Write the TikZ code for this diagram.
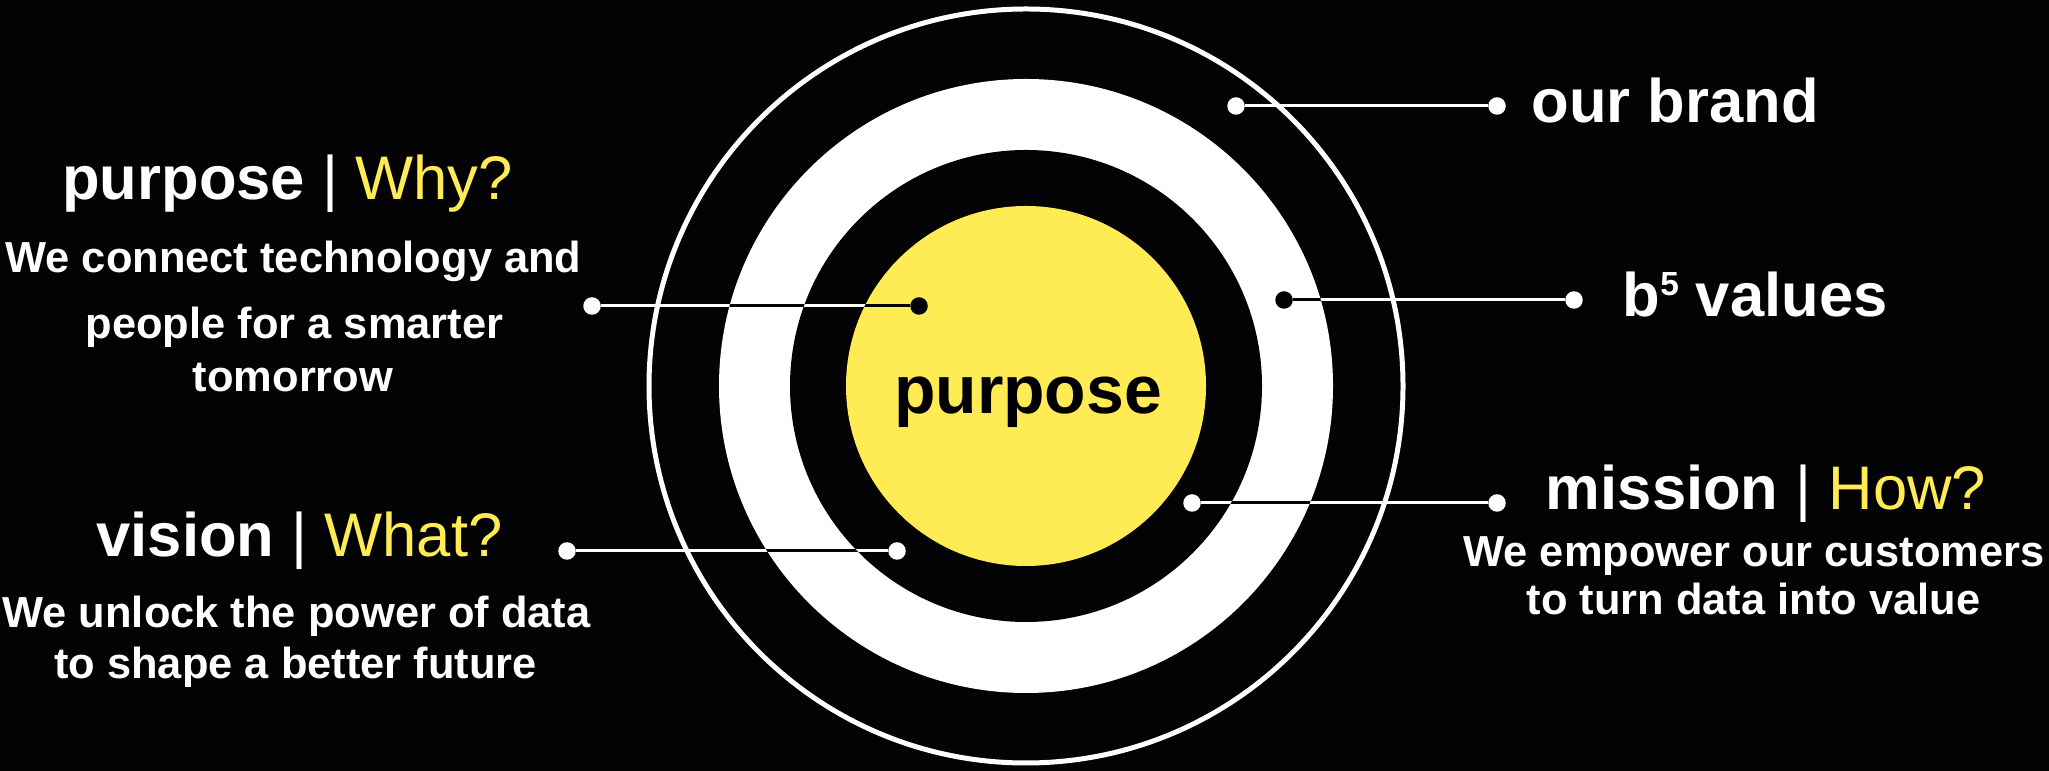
\documentclass[tikz,border=0pt]{standalone}
\usepackage{fontspec}
\setmainfont{Liberation Sans}
\definecolor{bgblack}{RGB}{3,3,6}
\definecolor{ringyellow}{RGB}{255,236,85}
\newcommand{\qhead}[2]{\textbf{#1} | \textcolor{ringyellow}{#2}}

\begin{document}
\begin{tikzpicture}[x=0.01cm, y=-0.01cm,
    dotw/.style={circle, fill=white, inner sep=0pt, minimum size=0.175cm},
    dotb/.style={circle, fill=bgblack, inner sep=0pt, minimum size=0.175cm},
    link/.style={line width=0.85pt},
    head/.style={font=\fontsize{17.5pt}{20pt}\selectfont, text=white,
      anchor=base, inner sep=0pt},
    body/.style={font=\fontsize{12.35pt}{14pt}\selectfont\bfseries, text=white,
      anchor=base, inner sep=0pt},
    tag/.style={font=\fontsize{17.5pt}{20pt}\selectfont\bfseries, text=white,
      anchor=base west, inner sep=0pt}
  ]
    % background
    \useasboundingbox (0,0) rectangle (2049,771);
    \fill[bgblack] (0,0) rectangle (2049,771);

    % target rings
    \coordinate (ctr) at (1026,386);
    \draw[white, line width=1.42pt] (ctr) circle[radius=377];
    \fill[white] (ctr) circle[radius=307];
    \fill[bgblack] (ctr) circle[radius=236];
    \fill[ringyellow] (ctr) circle[radius=180];
    \node[font=\fontsize{19.3pt}{22pt}\selectfont\bfseries, text=black,
      anchor=base, inner sep=0pt] (core) at (1028,414) {purpose};

    % end dots
    \node[dotw] (whyA) at (592,306) {};
    \node[dotb] (whyB) at (919,306) {};
    \node[dotw] (whatA) at (567,551) {};
    \node[dotw] (whatB) at (897,551) {};
    \node[dotw] (brandA) at (1236,106) {};
    \node[dotw] (brandB) at (1497,106) {};
    \node[dotb] (valuesA) at (1284,300) {};
    \node[dotw] (valuesB) at (1574,300) {};
    \node[dotw] (howA) at (1192,503) {};
    \node[dotw] (howB) at (1497,503) {};

    % connectors: white on black, black on the white band and the yellow core
    \draw[link, white] (whyA) -- (whyB);
    \draw[link, white] (whatA) -- (whatB);
    \draw[link, white] (brandA) -- (brandB);
    \draw[link, white] (valuesA) -- (valuesB);
    \draw[link, white] (howA) -- (howB);
    \begin{scope}[even odd rule]
      \clip (ctr) circle[radius=307] (ctr) circle[radius=236]
        (ctr) circle[radius=180];
      \draw[link, bgblack] (whyA) -- (whyB);
      \draw[link, bgblack] (whatA) -- (whatB);
      \draw[link, bgblack] (valuesA) -- (valuesB);
      \draw[link, bgblack] (howA) -- (howB);
    \end{scope}

    % left texts
    \node[head] (whyH) at (287.5,200) {\qhead{purpose}{Why?}};
    \node[body] (whyL1) at (293.5,273) {We connect technology and};
    \node[body] (whyL2) at (294.5,339) {people for a smarter};
    \node[body] (whyL3) at (293,392) {tomorrow};

    \node[head] (whatH) at (299.5,557) {\qhead{vision}{What?}};
    \node[body] (whatL1) at (296.5,628) {We unlock the power of data};
    \node[body] (whatL2) at (295.5,679) {to shape a better future};

    % right texts
    \node[tag] (brandT) at (1531,123) {our brand};
    \node[tag] (valuesT) at (1622,317)
      {b\raisebox{6pt}{\fontsize{9.5pt}{10pt}\selectfont 5} values};

    \node[head] (howH) at (1766,510) {\qhead{mission}{How?}};
    \node[body] (howL1) at (1754,567) {We empower our customers};
    \node[body] (howL2) at (1753.5,615) {to turn data into value};
\end{tikzpicture}
\end{document}
